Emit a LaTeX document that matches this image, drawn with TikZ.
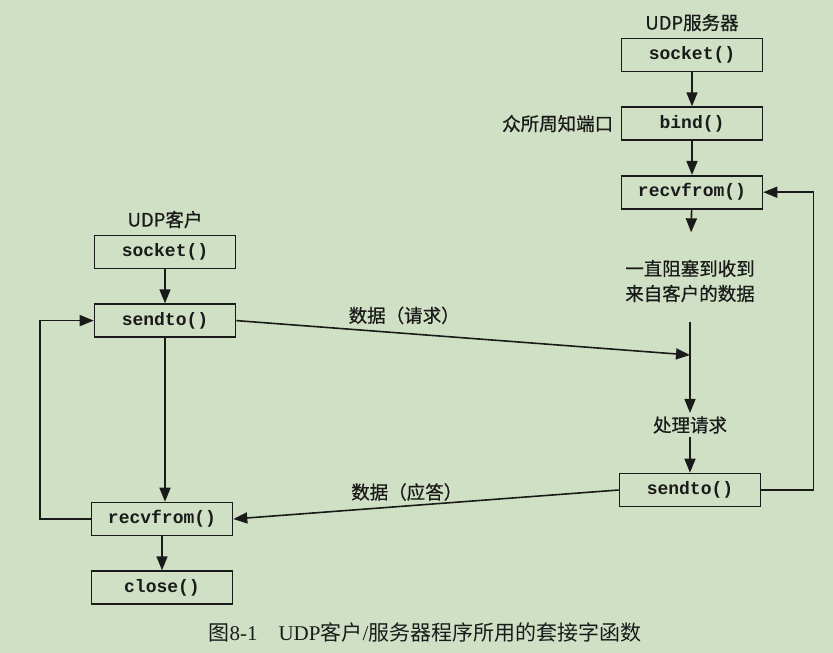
\documentclass[tikz,border=0pt]{standalone}
\usepackage{fontspec}
\setmainfont{Liberation Serif}
\setmonofont{Liberation Mono}
\newfontfamily\cjk[FakeBold=0.7]{Noto Sans CJK SC}
\newfontfamily\capcjk{Noto Sans CJK SC}
\usetikzlibrary{arrows.meta, positioning}
\definecolor{paper}{HTML}{D0E0C5}
\definecolor{ink}{HTML}{1A1A1A}
\tikzset{
    funcbox/.style={
        rectangle,
        draw=ink,
        line width=1.6pt,
        minimum width=141pt,
        minimum height=33pt,
        inner sep=0pt,
        text=ink,
        font=\ttfamily\bfseries\fontsize{18}{20}\selectfont
    },
    lbl/.style={
        text=ink,
        align=center,
        font=\cjk\fontsize{18.5}{25}\selectfont
    },
    arrow/.style={
        -{Triangle[length=14pt, width=11pt]},
        line width=1.6pt,
        draw=ink
    }
}

\begin{document}
\begin{tikzpicture}[x=1pt, y=-1pt, node distance=34pt and 4pt]
    \fill[paper] (0,0) rectangle (833,653);
    \useasboundingbox (0,0) rectangle (833,653);

    % server
    \node[funcbox] (ssock) at (692,55) {socket()};
    \node[funcbox, below=of ssock] (sbind) {bind()};
    \node[funcbox, below=of sbind] (srecv) {recvfrom()};
    \node[lbl, above=3pt of ssock] (stitle) {UDP服务器};
    \node[lbl, left=4pt of sbind] (port) {众所周知端口};
    \node[lbl] (wait) at (690,281) {一直阻塞到收到\\来自客户的数据};
    \node[lbl] (proc) at (690,425) {处理请求};
    \node[funcbox] (ssend) at (690,490) {sendto()};
    \coordinate (meet) at (690,355);

    % client
    \node[funcbox] (csock) at (165,252) {socket()};
    \node[funcbox, below=of csock] (csend) {sendto()};
    \node[lbl, above=3pt of csock] (ctitle) {UDP客户};
    \node[funcbox] (crecv) at (162,519) {recvfrom()};
    \node[funcbox, below=of crecv] (cclose) {close()};

    \draw[arrow] (ssock) -- (sbind);
    \draw[arrow] (sbind) -- (srecv);
    \draw[arrow, shorten >=24pt] (srecv) -- (wait);
    \draw[arrow, shorten <=16pt] (wait) -- (proc);
    \draw[arrow] (proc) -- (ssend);
    \draw[arrow] (ssend.east) -- ++(52,0) |- (srecv.east);

    \draw[arrow] (csock) -- (csend);
    \draw[arrow] (csend) -- (csend |- crecv.north);
    \draw[arrow] (crecv) -- (cclose);
    \draw[arrow] (crecv.west) -- ++(-51,0) |- (csend.west);

    % data between the two
    \draw[arrow] (csend.east) -- node[lbl, above=5pt, pos=0.37] (req) {数据（请求）} (meet);
    \draw[arrow] (ssend.west) -- node[lbl, above=1pt, pos=0.55] (rep) {数据（应答）} (crecv.east);

    \node[text=ink, font=\fontsize{21}{24}\selectfont] (caption) at (425,632)
        {{\capcjk 图}8-1\quad UDP{\capcjk 客户}/{\capcjk 服务器程序所用的套接字函数}};
\end{tikzpicture}
\end{document}
